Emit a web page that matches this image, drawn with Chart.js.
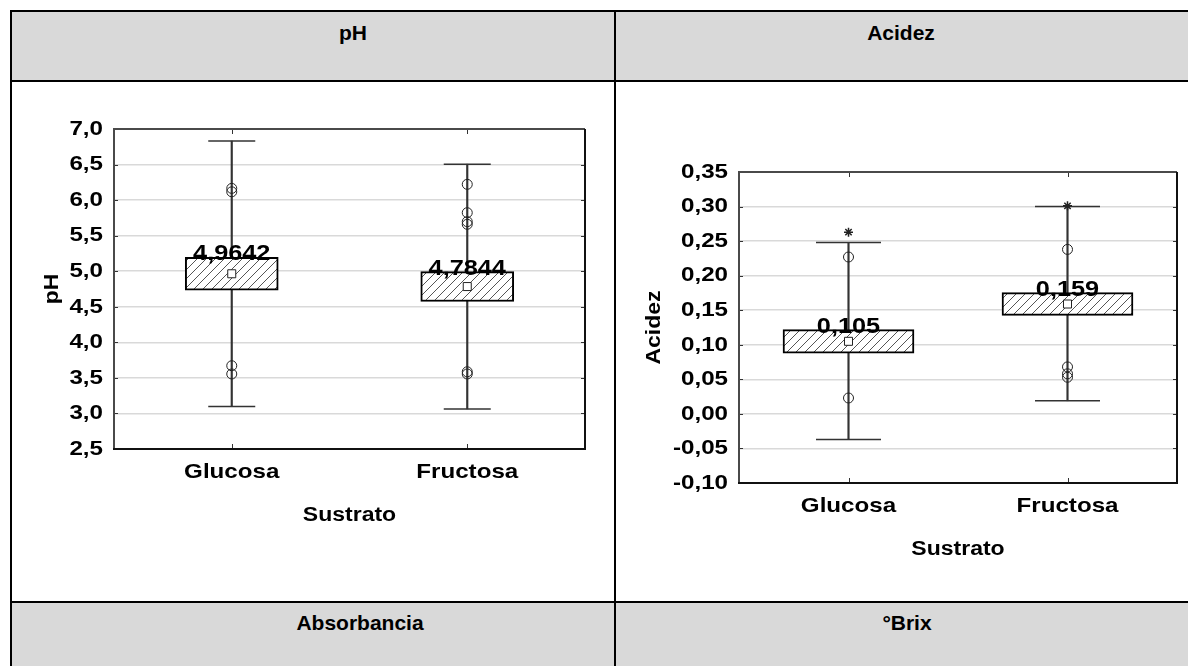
<!DOCTYPE html>
<html lang="es">
<head>
<meta charset="utf-8">
<title>pH y Acidez por sustrato</title>
<script src="https://cdn.jsdelivr.net/npm/chart.js@4.4.1/dist/chart.umd.min.js"></script>
<style>
  html, body { margin: 0; padding: 0; background: #fff; }
  body { width: 1188px; height: 666px; position: relative; overflow: hidden;
         font-family: 'Liberation Sans', Arial, Helvetica, sans-serif; }
  .fill { position: absolute; background: #d9d9d9; }
  .rule { position: absolute; background: #000; }
  .head { position: absolute; font-weight: bold; font-size: 21px; line-height: 21px;
          white-space: nowrap; transform: translateX(-50%); color: #000; }
  canvas { position: absolute; }
</style>
</head>
<body>
  <!-- table cells -->
  <div class="fill" style="left:12px; top:12px; width:1176px; height:68px"></div>
  <div class="fill" style="left:12px; top:603px; width:1176px; height:63px"></div>
  <div class="rule" style="left:10px; top:10px; width:1178px; height:2px"></div>
  <div class="rule" style="left:10px; top:10px; width:2px; height:656px"></div>
  <div class="rule" style="left:10px; top:80px; width:1178px; height:2px"></div>
  <div class="rule" style="left:10px; top:601px; width:1178px; height:2px"></div>
  <div class="rule" style="left:614px; top:10px; width:2px; height:656px"></div>

  <div class="head" style="left:353px; top:22px">pH</div>
  <div class="head" style="left:901px; top:22px">Acidez</div>
  <div class="head" style="left:360px; top:612px">Absorbancia</div>
  <div class="head" style="left:907px; top:612px">°Brix</div>

  <canvas id="chartPH" width="600" height="519" style="left:14px; top:82px"></canvas>
  <canvas id="chartAcidez" width="572" height="519" style="left:616px; top:82px"></canvas>

<script>
// Categories
const sustratos = ['Glucosa', 'Fructosa'];

// pH: mean, box (mean ± error) and whiskers (mean ± deviation)
const phMedia = [4.9642, 4.7844];
const phCajaInf = [4.734, 4.574];
const phCajaSup = [5.194, 4.994];
const phBigoteInf = [3.097, 3.064];
const phBigoteSup = [6.831, 6.505];
const phAtipicosGlucosa = [6.165, 6.117, 3.671, 3.555];
const phAtipicosFructosa = [6.222, 5.823, 5.697, 5.660, 3.586, 3.555];
const phExtremosGlucosa = [];
const phExtremosFructosa = [];
const phTicks = [2.5, 3.0, 3.5, 4.0, 4.5, 5.0, 5.5, 6.0, 6.5, 7.0];
const phTickLabels = ['2,5', '3,0', '3,5', '4,0', '4,5', '5,0', '5,5', '6,0', '6,5', '7,0'];

// Acidez
const acMedia = [0.105, 0.159];
const acCajaInf = [0.088, 0.1425];
const acCajaSup = [0.122, 0.1755];
const acBigoteInf = [-0.037, 0.019];
const acBigoteSup = [0.248, 0.300];
const acAtipicosGlucosa = [0.227, 0.023];
const acAtipicosFructosa = [0.238, 0.068, 0.058, 0.053];
const acExtremosGlucosa = [0.263];
const acExtremosFructosa = [0.301];
const acTicks = [-0.10, -0.05, 0.00, 0.05, 0.10, 0.15, 0.20, 0.25, 0.30, 0.35];
const acTickLabels = ['-0,10', '-0,05', '0,00', '0,05', '0,10', '0,15', '0,20', '0,25', '0,30', '0,35'];

const FONT = "'Liberation Sans', Arial, Helvetica, sans-serif";
const WIDE = 1.15; // horizontal stretch of the chart lettering

// Wide lettering: every text drawn on the chart canvas is stretched around its anchor
const wideText = {
  id: 'wideText',
  beforeInit(chart) {
    const base = CanvasRenderingContext2D.prototype.fillText;
    chart.ctx.fillText = function (text, x, y, maxWidth) {
      this.save();
      this.translate(x, y);
      this.scale(WIDE, 1);
      if (maxWidth === undefined) base.call(this, text, 0, 0);
      else base.call(this, text, 0, 0, maxWidth / WIDE);
      this.restore();
    };
  }
};

// Plot frame, inward tick marks and the mean value above each box
const frame = {
  id: 'frame',
  afterDatasetsDraw(chart, args, opts) {
    const { ctx, chartArea: a, scales: { x, y } } = chart;
    ctx.save();
    ctx.strokeStyle = '#333';
    ctx.lineWidth = 1;
    ctx.beginPath();
    y.ticks.forEach(t => {
      const py = Math.round(y.getPixelForValue(t.value)) + 0.5;
      ctx.moveTo(a.left, py); ctx.lineTo(a.left + 4, py);
      ctx.moveTo(a.right - 4, py); ctx.lineTo(a.right, py);
    });
    x.ticks.forEach((t, i) => {
      const px = Math.round(x.getPixelForTick(i)) + 0.5;
      ctx.moveTo(px, a.top); ctx.lineTo(px, a.top + 5);
      ctx.moveTo(px, a.bottom - 5); ctx.lineTo(px, a.bottom);
    });
    ctx.stroke();

    ctx.lineWidth = 2;
    ctx.strokeStyle = '#4a4a4a';
    ctx.beginPath();
    ctx.moveTo(a.left, a.bottom); ctx.lineTo(a.left, a.top); ctx.lineTo(a.right, a.top);
    ctx.stroke();
    ctx.strokeStyle = '#111';
    ctx.beginPath();
    ctx.moveTo(a.right, a.top); ctx.lineTo(a.right, a.bottom); ctx.lineTo(a.left - 1, a.bottom);
    ctx.stroke();

    const boxes = chart.getDatasetMeta(opts.boxDataset).data;
    ctx.fillStyle = '#000';
    ctx.font = 'bold 22px ' + FONT;
    ctx.textAlign = 'center';
    ctx.textBaseline = 'alphabetic';
    opts.media.forEach((m, i) => {
      const top = y.getPixelForValue(opts.cajaSup[i]);
      ctx.fillText(String(m).replace('.', ','), boxes[i].x, top + 3);
    });
    ctx.restore();
  }
};

function hatch(ctx) {
  const s = 9;
  const c = document.createElement('canvas');
  c.width = s; c.height = s;
  const g = c.getContext('2d');
  g.fillStyle = '#fff';
  g.fillRect(0, 0, s, s);
  g.strokeStyle = '#555';
  g.lineWidth = 1;
  g.beginPath();
  g.moveTo(0, s); g.lineTo(s, 0);
  g.moveTo(-1, 1); g.lineTo(1, -1);
  g.moveTo(s - 1, s + 1); g.lineTo(s + 1, s - 1);
  g.stroke();
  return ctx.createPattern(c, 'repeat');
}

function pointsFor(glucosa, fructosa) {
  return glucosa.map(v => ({ x: sustratos[0], y: v }))
    .concat(fructosa.map(v => ({ x: sustratos[1], y: v })));
}

function boxChart(id, d) {
  const ctx = document.getElementById(id).getContext('2d');
  const tickFont = { family: FONT, size: 21, weight: 'bold', lineHeight: 1.2 };
  return new Chart(ctx, {
    type: 'bar',
    data: {
      labels: sustratos,
      datasets: [
        { type: 'bar', data: d.bigoteInf.map((v, i) => [v, d.bigoteSup[i]]),
          backgroundColor: '#333', borderWidth: 0, barThickness: 1.5, grouped: false, order: 6 },
        { type: 'line', data: d.bigoteSup, showLine: false, pointStyle: 'line',
          pointRadius: d.cap, pointBorderColor: '#333', pointBorderWidth: 1.5, order: 5 },
        { type: 'line', data: d.bigoteInf, showLine: false, pointStyle: 'line',
          pointRadius: d.cap, pointBorderColor: '#333', pointBorderWidth: 1.5, order: 5 },
        { type: 'bar', data: d.cajaInf.map((v, i) => [v, d.cajaSup[i]]),
          backgroundColor: hatch(ctx), borderColor: '#000', borderWidth: 2, borderSkipped: false,
          barThickness: d.caja, grouped: false, order: 4 },
        { type: 'line', data: pointsFor(d.atipicosG, d.atipicosF), showLine: false, pointStyle: 'circle',
          pointRadius: 5, pointBackgroundColor: 'rgba(0,0,0,0)', pointBorderColor: '#222',
          pointBorderWidth: 1, order: 2 },
        { type: 'line', data: pointsFor(d.extremosG, d.extremosF), showLine: false, pointStyle: 'star',
          pointRadius: 4.5, pointBorderColor: '#222', pointBorderWidth: 1.5, order: 2 },
        { type: 'line', data: d.media, showLine: false, pointStyle: 'rect',
          pointRadius: 5.66, pointBackgroundColor: '#fff', pointBorderColor: '#222',
          pointBorderWidth: 1, order: 1 }
      ]
    },
    options: {
      responsive: false,
      animation: false,
      events: [],
      layout: { padding: d.padding, autoPadding: false },
      plugins: {
        legend: { display: false },
        tooltip: { enabled: false },
        frame: { boxDataset: 3, media: d.media, cajaSup: d.cajaSup }
      },
      scales: {
        x: {
          type: 'category',
          offset: true,
          grid: { display: false, drawTicks: false },
          border: { display: false },
          ticks: { color: '#000', font: { family: FONT, size: 21, weight: 'bold', lineHeight: 1.2 },
                   padding: 11, maxRotation: 0 },
          title: { display: true, text: 'Sustrato', color: '#000',
                   font: { family: FONT, size: 20, weight: 'bold', lineHeight: 1.2 },
                   padding: { top: 0, bottom: 22 } },
          afterFit(s) { s.height = 100; s.paddingLeft = 0; s.paddingRight = 0; }
        },
        y: {
          min: d.ticks[0],
          max: d.ticks[d.ticks.length - 1],
          afterBuildTicks(s) { s.ticks = d.ticks.map(v => ({ value: v })); },
          grid: { color: '#d9d9d9', lineWidth: 1.5, drawTicks: false },
          border: { display: false },
          ticks: { color: '#000', font: tickFont, padding: 11,
                   callback: (v, i) => d.tickLabels[i] },
          title: { display: true, text: d.titulo, color: '#000',
                   font: { family: FONT, size: 20, weight: 'bold', lineHeight: 1.2 },
                   padding: { top: 26, bottom: 0 } },
          afterFit(s) { s.width = d.ejeY; }
        }
      }
    },
    plugins: [wideText, frame]
  });
}

boxChart('chartPH', {
  titulo: 'pH',
  media: phMedia, cajaInf: phCajaInf, cajaSup: phCajaSup,
  bigoteInf: phBigoteInf, bigoteSup: phBigoteSup,
  atipicosG: phAtipicosGlucosa, atipicosF: phAtipicosFructosa,
  extremosG: phExtremosGlucosa, extremosF: phExtremosFructosa,
  ticks: phTicks, tickLabels: phTickLabels,
  caja: 93, cap: 23.5, ejeY: 100,
  padding: { top: 47, right: 29, bottom: 52, left: 0 }
});

boxChart('chartAcidez', {
  titulo: 'Acidez',
  media: acMedia, cajaInf: acCajaInf, cajaSup: acCajaSup,
  bigoteInf: acBigoteInf, bigoteSup: acBigoteSup,
  atipicosG: acAtipicosGlucosa, atipicosF: acAtipicosFructosa,
  extremosG: acExtremosGlucosa, extremosF: acExtremosFructosa,
  ticks: acTicks, tickLabels: acTickLabels,
  caja: 131, cap: 32.5, ejeY: 123,
  padding: { top: 90, right: 11, bottom: 18, left: 0 }
});
</script>
</body>
</html>
